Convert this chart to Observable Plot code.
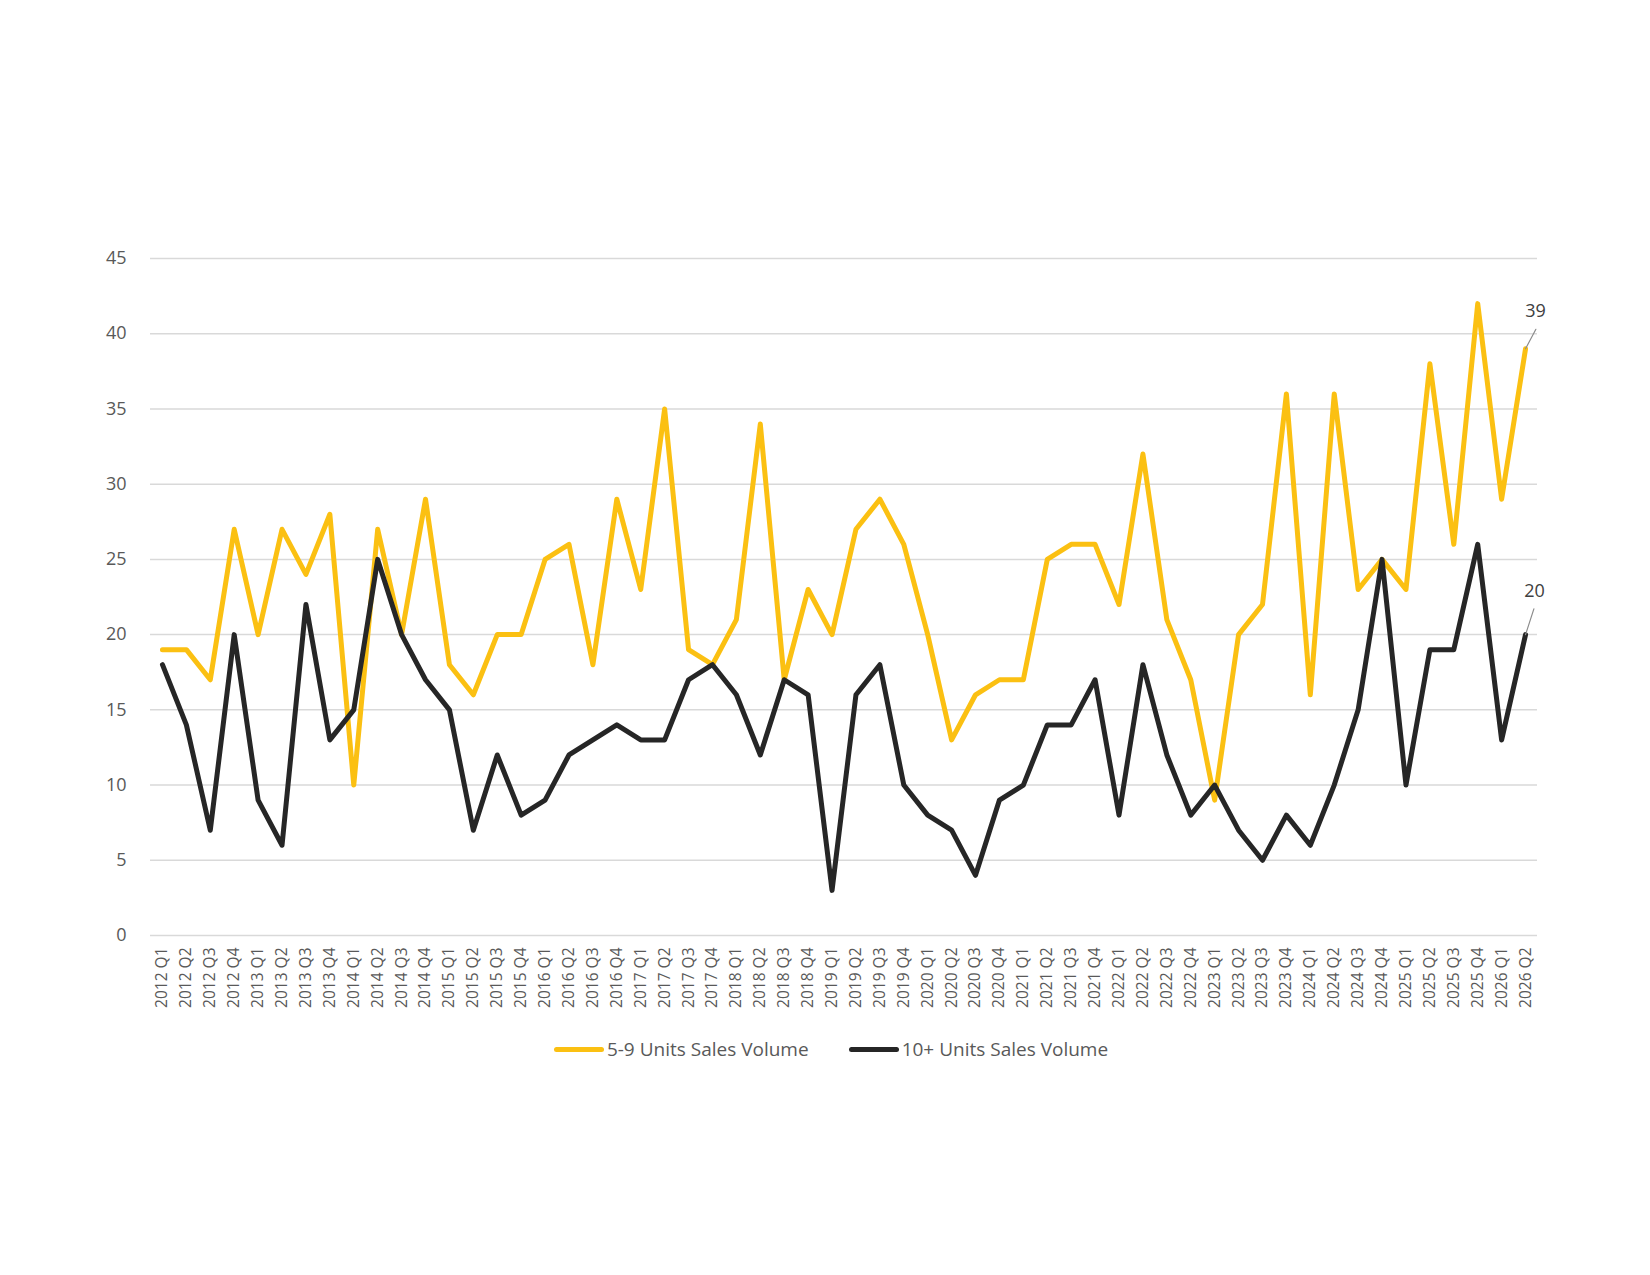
<!DOCTYPE html>
<html>
<head>
<meta charset="utf-8">
<script src="https://cdn.jsdelivr.net/npm/d3@7"></script>
<script src="https://cdn.jsdelivr.net/npm/@observablehq/plot@0.6"></script>
<style>
  html, body { margin: 0; padding: 0; background: #fff; }
  body { width: 1650px; height: 1275px; position: relative; font-family: "Open Sans", sans-serif; }
  #chart { position: absolute; left: 0; top: 0; }
  #legend { position: absolute; left: 0; top: 1036px; width: 1650px; display: flex; justify-content: center; gap: 40px; padding-left: 12px; box-sizing: border-box; font-size: 19px; color: #595959; }
  .item { display: flex; align-items: center; }
  .sw { width: 50px; height: 5px; border-radius: 3px; margin-right: 3px; }
</style>
</head>
<body>
<div id="chart"></div>
<div id="legend"></div>
<script>
const quarters = [];
const years = d3.range(2012, 2027);
for (const yr of years) for (const q of [1, 2, 3, 4]) {
  if (yr === 2026 && q > 2) break;
  quarters.push(`${yr} Q${q}`);
}

const units5to9 = [19,19,17,27, 20,27,24,28, 10,27,20,29, 18,16,20,20, 25,26,18,29, 23,35,19,18,
  21,34,17,23, 20,27,29,26, 20,13,16,17, 17,25,26,26, 22,32,21,17, 9,20,22,36, 16,36,23,25, 23,38,26,42, 29,39];
const units10plus = [18,14,7,20, 9,6,22,13, 15,25,20,17, 15,7,12,8, 9,12,13,14, 13,13,17,18,
  16,12,17,16, 3,16,18,10, 8,7,4,9, 10,14,14,17, 8,18,12,8, 10,7,5,8, 6,10,15,25, 10,19,19,26, 13,20];

const seriesNames = ["5-9 Units Sales Volume", "10+ Units Sales Volume"];
const seriesColors = ["#FBC012", "#262626"];
const yTicks = d3.range(0, 50, 5);

const rows = [];
quarters.forEach((q, i) => {
  rows.push({quarter: q, series: seriesNames[0], value: units5to9[i]});
  rows.push({quarter: q, series: seriesNames[1], value: units10plus[i]});
});
const last = quarters.length - 1;
const endTop = [{quarter: quarters[last], value: units5to9[last], label: String(units5to9[last])}];
const endBottom = [{quarter: quarters[last], value: units10plus[last], label: String(units10plus[last])}];

const leader = {
  draw(context, l) { context.moveTo(0, 0); context.lineTo(0, -l); }
};

const chart = Plot.plot({
  width: 1650,
  height: 1030,
  marginTop: 258,
  marginBottom: 95,
  marginLeft: 150,
  marginRight: 113,
  style: {fontFamily: "'Open Sans', sans-serif", background: "#fff"},
  x: {type: "point", domain: quarters, padding: 0.5, label: null},
  y: {domain: [0, 45], label: null},
  color: {domain: seriesNames, range: seriesColors},
  marks: [
    Plot.ruleY(yTicks, {stroke: "#d9d9d9", strokeWidth: 1.5}),
    Plot.axisY({ticks: yTicks, tickSize: 0, tickPadding: 24, fontSize: 18, fill: "#595959", label: null}),
    Plot.axisX({tickSize: 0, tickPadding: 12, tickRotate: -90, fontSize: 15.5, fill: "#595959", label: null}),
    Plot.lineY(rows, {x: "quarter", y: "value", stroke: "series", strokeWidth: 5, strokeLinejoin: "round", strokeLinecap: "round"}),
    Plot.vector(endTop, {x: "quarter", y: "value", length: 22, rotate: 28, anchor: "start", shape: leader, stroke: "#8c8c8c", strokeWidth: 1.2}),
    Plot.vector(endBottom, {x: "quarter", y: "value", length: 27, rotate: 18, anchor: "start", shape: leader, stroke: "#8c8c8c", strokeWidth: 1.2}),
    Plot.text(endTop, {x: "quarter", y: "value", text: "label", dx: 10, dy: -38, fontSize: 18, fill: "#404040"}),
    Plot.text(endBottom, {x: "quarter", y: "value", text: "label", dx: 9, dy: -43, fontSize: 18, fill: "#404040"})
  ]
});
document.getElementById("chart").appendChild(chart);

const legend = document.getElementById("legend");
seriesNames.forEach((name, i) => {
  const it = document.createElement("div");
  it.className = "item";
  const sw = document.createElement("div");
  sw.className = "sw";
  sw.style.background = seriesColors[i];
  const tx = document.createElement("span");
  tx.textContent = name;
  it.appendChild(sw); it.appendChild(tx);
  legend.appendChild(it);
});
</script>
</body>
</html>
